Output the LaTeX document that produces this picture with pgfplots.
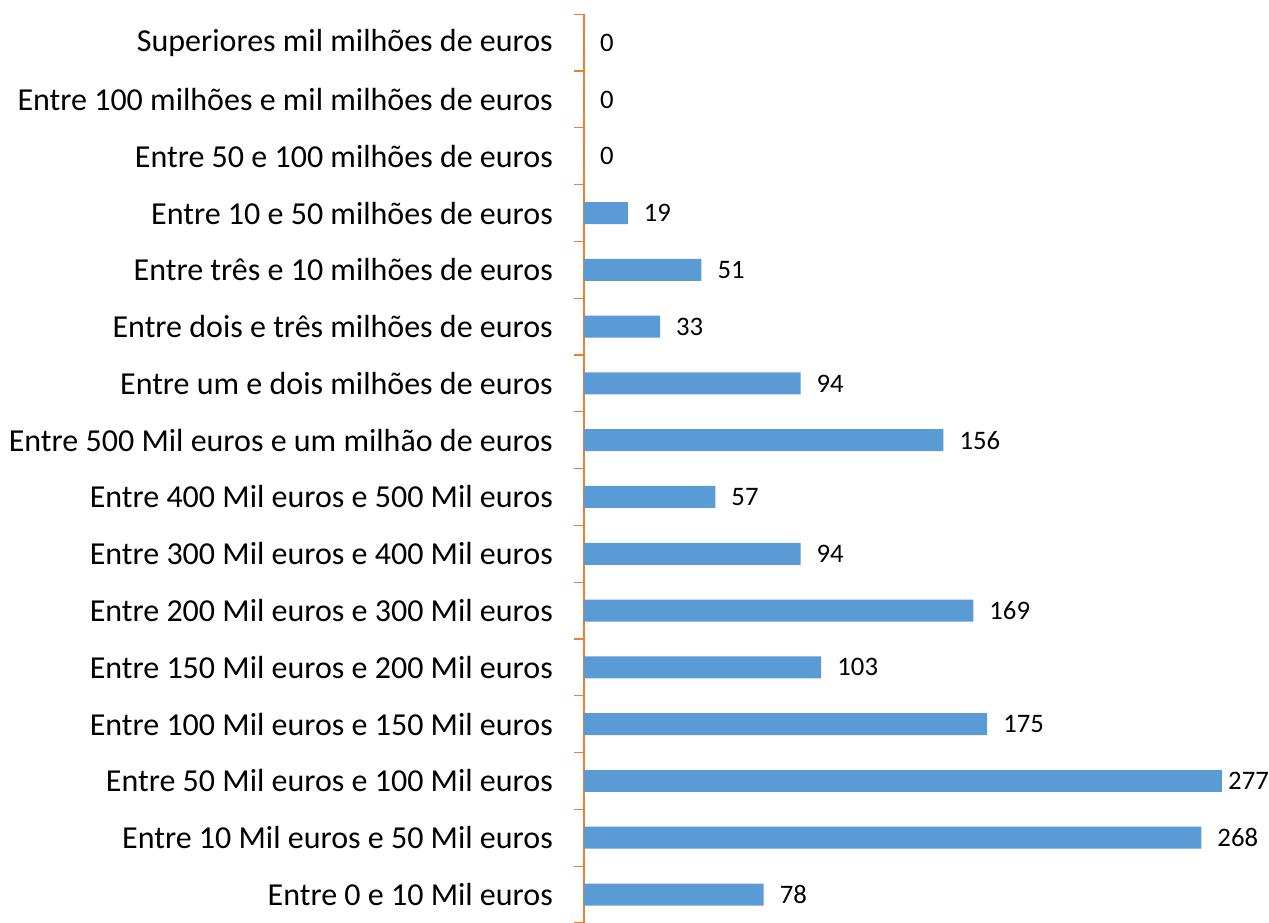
\documentclass[border=0pt]{standalone}
\usepackage{fontspec}
\setmainfont{Carlito}
\usepackage{pgfplots}
\pgfplotsset{compat=1.18}
\definecolor{barblue}{HTML}{5B9BD5}
\definecolor{axorange}{HTML}{ED7D31}
\begin{document}
\begin{tikzpicture}
\begin{axis}[
  name=ax,
  scale only axis,
  width=685bp, height=908.6bp,
  xbar, bar width=22bp, bar shift=0pt,
  xmin=0, xmax=297.4,
  ymin=-0.5, ymax=15.5,
  hide x axis,
  axis y line*=left,
  axis line style={draw=axorange, line width=1.4bp},
  y axis line style={draw=axorange, line width=1.4bp},
  every outer y axis line/.append style={draw=axorange, line width=1.4bp},
  ytick={0,...,15},
  yticklabels={
    Entre 0 e 10 Mil euros,
    Entre 10 Mil euros e 50 Mil euros,
    Entre 50 Mil euros e 100 Mil euros,
    Entre 100 Mil euros e 150 Mil euros,
    Entre 150 Mil euros e 200 Mil euros,
    Entre 200 Mil euros e 300 Mil euros,
    Entre 300 Mil euros e 400 Mil euros,
    Entre 400 Mil euros e 500 Mil euros,
    Entre 500 Mil euros e um milhão de euros,
    Entre um e dois milhões de euros,
    Entre dois e três milhões de euros,
    Entre três e 10 milhões de euros,
    Entre 10 e 50 milhões de euros,
    Entre 50 e 100 milhões de euros,
    Entre 100 milhões e mil milhões de euros,
    Superiores mil milhões de euros},
  minor ytick={-0.5,0.5,...,15.5},
  major tick length=0pt,
  minor tick length=10bp,
  tick align=outside,
  ytick style={draw=axorange, line width=1.2bp},
  minor tick style={draw=axorange, line width=1.2bp},
  yticklabel style={font=\fontsize{32bp}{38bp}\selectfont, inner xsep=0pt, xshift=-31bp, text=black},
  nodes near coords,
  nodes near coords style={font=\fontsize{26.7bp}{32bp}\selectfont, anchor=west, inner xsep=0pt, xshift=16bp, text=black},
  point meta=explicit symbolic,
  clip=false,
]
\addplot[fill=barblue, draw=none] table[meta=v] {
x y v
78 0 78
268 1 268
175 3 175
103 4 103
169 5 169
94 6 94
57 7 57
156 8 156
94 9 94
33 10 33
51 11 51
19 12 19
0 13 0
0 14 0
0 15 0
};
\addplot[fill=barblue, draw=none, nodes near coords style={xshift=-10bp}] table[meta=v] {
x y v
277 2 277
};
\end{axis}
\pgfresetboundingbox
\path[use as bounding box] (ax.south west) ++(-584bp,5.9bp) rectangle ++(1269bp,917bp);
\end{tikzpicture}
\end{document}
